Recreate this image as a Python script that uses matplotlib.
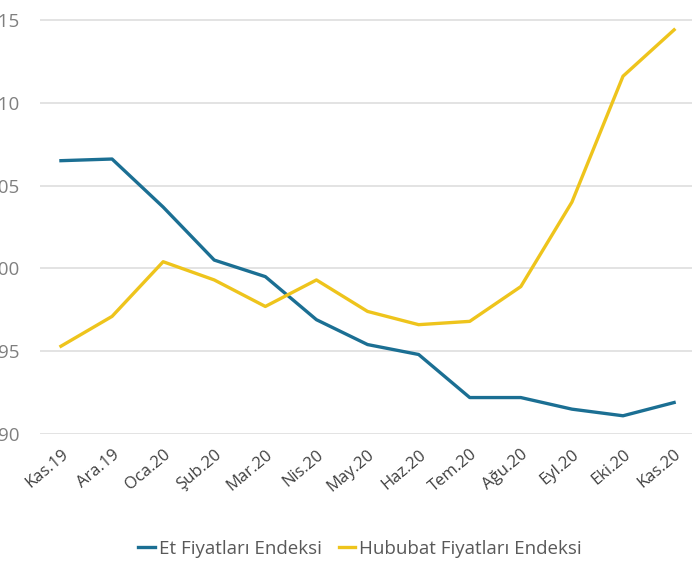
import matplotlib
matplotlib.use('Agg')
import matplotlib.pyplot as plt

months = ['Kas.19', 'Ara.19', 'Oca.20', 'Şub.20', 'Mar.20', 'Nis.20', 'May.20',
          'Haz.20', 'Tem.20', 'Ağu.20', 'Eyl.20', 'Eki.20', 'Kas.20']
et = [106.5, 106.6, 103.7, 100.5, 99.5, 96.9, 95.4, 94.8, 92.2, 92.2, 91.5, 91.1, 91.9]
hububat = [95.3, 97.1, 100.4, 99.3, 97.7, 99.3, 97.4, 96.6, 96.8, 98.9, 104.0, 111.6, 114.4]
yticks = [90, 95, 100, 105, 110, 115]

plt.rcParams['font.family'] = ['Open Sans', 'DejaVu Sans']

fig = plt.figure(figsize=(6.92, 5.69), dpi=100)
ax = fig.add_axes([40 / 692, 1 - 434 / 569, 1 - 40 / 692, 434 / 569])

x = range(len(months))
ax.plot(x, et, color='#1b6f93', linewidth=2.4, label='Et Fiyatları Endeksi')
ax.plot(x, hububat, color='#eec41c', linewidth=2.4, label='Hububat Fiyatları Endeksi')

ax.set_ylim(90, 116.2)
ax.set_xlim(-0.41, 12.35)
ax.set_yticks(yticks)
ax.set_yticklabels([str(v) for v in yticks], fontsize=13.5, color='#7f7f7f')
ax.tick_params(axis='y', length=0, pad=15)
ax.set_xticks(list(x))
ax.set_xticklabels(months, rotation=40, ha='right', rotation_mode='anchor',
                   fontsize=12, color='#404040')
ax.tick_params(axis='x', length=0, pad=9)
ax.grid(axis='y', color='#e0e0e0', linewidth=1.3)
ax.set_axisbelow(True)
for s in ax.spines.values():
    s.set_visible(False)

fig.legend(loc='center', bbox_to_anchor=(360 / 692, 1 - 549 / 569), ncol=2, frameon=False,
           fontsize=13.5, handlelength=0.9, handletextpad=0.2, columnspacing=0.9,
           labelcolor='#595959')

fig.savefig('out.png', dpi=100)
